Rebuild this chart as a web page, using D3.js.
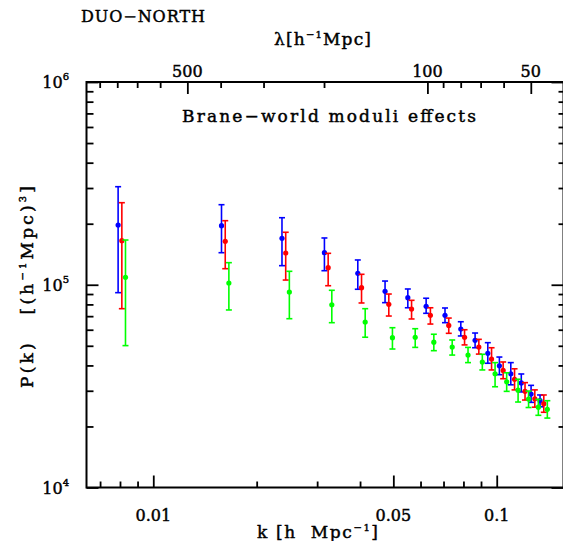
<!DOCTYPE html>
<html><head><meta charset="utf-8">
<script src="https://cdn.jsdelivr.net/npm/d3@7"></script>
<style>body{margin:0;background:#fff} text{white-space:pre;fill:#000;stroke:#000;stroke-width:0.45px}</style>
</head><body>
<script>
// ---- data ----
const kBlue  = [0.0079,0.0158,0.0237,0.0315,0.0394,0.0473,0.0551,0.0623,0.0707,0.0786,0.0865,0.0942,0.1018,0.1099,0.1179,0.1259,0.1337];
const pBlue  = [1.97e5,1.955e5,1.695e5,1.439e5,1.139e5,9.28e4,8.63e4,7.83e4,7.07e4,6.05e4,5.32e4,4.59e4,3.98e4,3.64e4,3.28e4,2.89e4,2.68e4];
const pBlueHi= [3.045e5,2.482e5,2.141e5,1.701e5,1.325e5,1.043e5,9.53e4,8.58e4,7.68e4,6.57e4,5.78e4,5.18e4,4.40e4,4.13e4,3.63e4,3.19e4,2.86e4];
const pBlueLo= [9.14e4,1.439e5,1.242e5,1.173e5,9.50e4,8.16e4,7.70e4,7.23e4,6.50e4,5.59e4,4.89e4,4.10e4,3.60e4,3.21e4,2.96e4,2.63e4,2.50e4];

const kRed   = [0.0081,0.0162,0.0243,0.0323,0.0404,0.0485,0.0565,0.0641,0.0725,0.0806,0.0887,0.0966,0.1044,0.1127,0.1209,0.1291,0.1371];
const pRed   = [1.649e5,1.638e5,1.434e5,1.214e5,9.67e4,8.01e4,7.59e4,7.07e4,6.30e4,5.51e4,4.93e4,4.30e4,3.78e4,3.42e4,2.98e4,2.74e4,2.59e4];
const pRedHi = [2.539e5,2.07e5,1.815e5,1.429e5,1.126e5,9.00e4,8.38e4,7.70e4,6.85e4,6.00e4,5.38e4,4.89e4,4.16e4,3.85e4,3.29e4,3.03e4,2.86e4];
const pRedLo = [7.62e4,1.20e5,1.055e5,9.89e4,8.13e4,7.01e4,6.78e4,6.40e4,5.76e4,5.05e4,4.55e4,3.80e4,3.44e4,3.03e4,2.70e4,2.49e4,2.35e4];

const kGreen = [0.0083,0.0166,0.0249,0.0331,0.0414,0.0497,0.0579,0.0656,0.0742,0.0825,0.0908,0.0989,0.1069,0.1154,0.1238,0.1322,0.1404];
const pGreen = [1.088e5,1.02e5,9.21e4,7.97e4,6.55e4,5.48e4,5.51e4,5.21e4,4.93e4,4.50e4,4.16e4,3.64e4,3.32e4,3.02e4,2.73e4,2.49e4,2.43e4];
const pGreenHi=[1.662e5,1.285e5,1.165e5,9.39e4,7.62e4,6.14e4,6.07e4,5.70e4,5.34e4,4.91e4,4.54e4,4.13e4,3.68e4,3.42e4,2.99e4,2.72e4,2.68e4];
const pGreenLo=[5.01e4,7.51e4,6.80e4,6.50e4,5.51e4,4.82e4,4.91e4,4.73e4,4.50e4,4.13e4,3.80e4,3.14e4,2.98e4,2.64e4,2.48e4,2.27e4,2.20e4];

const kDomain = [0.006391, 0.15647];
const pDomain = [1e4, 1e6];
const kMajorTicks  = [0.01, 0.05, 0.1];
const kMajorLabels = ["0.01", "0.05", "0.1"];
const kMinorTicks  = [0.007,0.008,0.009,0.02,0.03,0.04,0.06,0.07,0.08,0.09];
const lamMajorTicks  = [500, 100, 50];
const lamMajorLabels = ["500", "100", "50"];
const lamMinorTicks  = [900,800,700,600,400,300,200,90,80,70,60];
const pMajorTicks = [1e4, 1e5, 1e6];
const pMajorExp   = ["4", "5", "6"];
const pMinorTicks = [2e4,3e4,4e4,5e4,6e4,7e4,8e4,9e4,2e5,3e5,4e5,5e5,6e5,7e5,8e5,9e5];

const series = [
  {k:kBlue,  p:pBlue,  hi:pBlueHi,  lo:pBlueLo,  color:"#0000ff"},
  {k:kRed,   p:pRed,   hi:pRedHi,   lo:pRedLo,   color:"#ff0000"},
  {k:kGreen, p:pGreen, hi:pGreenHi, lo:pGreenLo, color:"#00ff00"}
];

// ---- layout ----
const W = 563, H = 541;
const L = 86.5, R = 563.5, T = 82, B = 487.5;
const FONT = "DejaVu Serif";

const svg = d3.select("body").append("svg").attr("width", W).attr("height", H)
  .style("font-family", FONT);

const x = d3.scaleLog().domain(kDomain).range([L, R]);
const y = d3.scaleLog().domain(pDomain).range([B, T]);
const lam = d3.scaleLog().domain([2*Math.PI/kDomain[0], 2*Math.PI/kDomain[1]]).range([L, R]);

function styleAxis(g){
  g.select(".domain").remove();
  g.selectAll(".tick line").attr("stroke", "#000").attr("stroke-width", 1.8);
  g.selectAll(".tick text").remove();
}

// bottom
svg.append("g").attr("transform", `translate(0,${B})`)
  .call(d3.axisBottom(x).tickValues(kMajorTicks).tickSize(-12)).call(styleAxis);
svg.append("g").attr("transform", `translate(0,${B})`)
  .call(d3.axisBottom(x).tickValues(kMinorTicks).tickSize(-6)).call(styleAxis);
// top
svg.append("g").attr("transform", `translate(0,${T})`)
  .call(d3.axisTop(lam).tickValues(lamMajorTicks).tickSize(-12)).call(styleAxis);
svg.append("g").attr("transform", `translate(0,${T})`)
  .call(d3.axisTop(lam).tickValues(lamMinorTicks).tickSize(-6)).call(styleAxis);
// left
svg.append("g").attr("transform", `translate(${L},0)`)
  .call(d3.axisLeft(y).tickValues(pMajorTicks).tickSize(-12)).call(styleAxis);
svg.append("g").attr("transform", `translate(${L},0)`)
  .call(d3.axisLeft(y).tickValues(pMinorTicks).tickSize(-7)).call(styleAxis);
// right
svg.append("g").attr("transform", `translate(${R},0)`)
  .call(d3.axisRight(y).tickValues(pMajorTicks).tickSize(-12)).call(styleAxis);
svg.append("g").attr("transform", `translate(${R},0)`)
  .call(d3.axisRight(y).tickValues(pMinorTicks).tickSize(-5)).call(styleAxis);

// frame
svg.append("rect").attr("x", L).attr("y", T).attr("width", R-L).attr("height", B-T)
  .attr("fill", "none").attr("stroke", "#000").attr("stroke-width", 2);

// tick labels
svg.append("g").selectAll("text").data(kMajorTicks).join("text")
  .attr("x", d => x(d)).attr("y", 521).attr("text-anchor", "middle")
  .attr("font-size", 16).text((d,i) => kMajorLabels[i]);
svg.append("g").selectAll("text").data(lamMajorTicks).join("text")
  .attr("x", d => lam(d)).attr("y", 77).attr("text-anchor", "middle")
  .attr("font-size", 16).text((d,i) => lamMajorLabels[i]);
const yl = svg.append("g").selectAll("text").data(pMajorTicks).join("text")
  .attr("x", 69).attr("y", d => y(d) + 6).attr("text-anchor", "end").attr("font-size", 16);
yl.append("tspan").text("10");
yl.append("tspan").attr("font-size", 10).attr("dy", -8).text((d,i) => pMajorExp[i]);

// axis titles
const xt = svg.append("text").attr("x", 257).attr("y", 538).attr("font-size", 17)
  .attr("textLength", 121).attr("lengthAdjust", "spacing");
xt.append("tspan").text("k [h  Mpc");
xt.append("tspan").attr("font-size", 10).attr("dy", -7).text("−1");
xt.append("tspan").attr("dy", 7).text("]");

const tt = svg.append("text").attr("x", 274).attr("y", 45).attr("font-size", 17)
  .attr("textLength", 97).attr("lengthAdjust", "spacing");
tt.append("tspan").text("λ[h");
tt.append("tspan").attr("font-size", 10).attr("dy", -7).text("−1");
tt.append("tspan").attr("dy", 7).text("Mpc]");

const ylab = svg.append("text").attr("transform", "translate(33,388) rotate(-90)")
  .attr("font-size", 17).attr("textLength", 202).attr("lengthAdjust", "spacing");
ylab.append("tspan").text("P(k)   [(h");
ylab.append("tspan").attr("font-size", 10).attr("dy", -7).text("−1");
ylab.append("tspan").attr("dy", 7).text("Mpc)");
ylab.append("tspan").attr("font-size", 10).attr("dy", -7).text("3");
ylab.append("tspan").attr("dy", 7).text("]");

svg.append("text").attr("x", 81).attr("y", 22).attr("font-size", 16)
  .attr("textLength", 124).attr("lengthAdjust", "spacing").text("DUO−NORTH");
svg.append("text").attr("x", 182).attr("y", 122).attr("font-size", 17)
  .attr("textLength", 294).attr("lengthAdjust", "spacing").text("Brane−world moduli effects");

// data
series.forEach(s => {
  const g = svg.append("g");
  const idx = d3.range(s.k.length);
  g.selectAll("line.bar").data(idx).join("line").attr("class","bar")
    .attr("x1", i => x(s.k[i])).attr("x2", i => x(s.k[i]))
    .attr("y1", i => y(s.hi[i])).attr("y2", i => y(s.lo[i]))
    .attr("stroke", s.color).attr("stroke-width", 1.6);
  g.selectAll("line.capt").data(idx).join("line").attr("class","capt")
    .attr("x1", i => x(s.k[i]) - 3).attr("x2", i => x(s.k[i]) + 3)
    .attr("y1", i => y(s.hi[i])).attr("y2", i => y(s.hi[i]))
    .attr("stroke", s.color).attr("stroke-width", 1.6);
  g.selectAll("line.capb").data(idx).join("line").attr("class","capb")
    .attr("x1", i => x(s.k[i]) - 3).attr("x2", i => x(s.k[i]) + 3)
    .attr("y1", i => y(s.lo[i])).attr("y2", i => y(s.lo[i]))
    .attr("stroke", s.color).attr("stroke-width", 1.6);
  g.selectAll("circle").data(idx).join("circle")
    .attr("cx", i => x(s.k[i])).attr("cy", i => y(s.p[i])).attr("r", 2.6)
    .attr("fill", s.color);
});
</script>
</body></html>
